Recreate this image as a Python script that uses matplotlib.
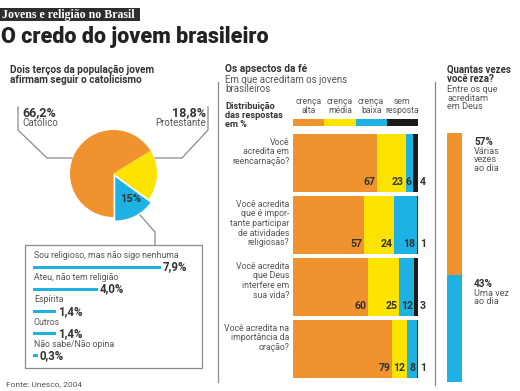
import matplotlib
matplotlib.use('Agg')
import numpy as np
import matplotlib.pyplot as plt
from matplotlib.patches import Rectangle
import matplotlib.transforms as mtransforms

plt.rcParams['font.family'] = ['Roboto', 'DejaVu Sans']

# ---------------- data ----------------
pie_labels = ['Outros', 'Protestante', 'Católico']
pie_values = [15.0, 18.8, 66.2]

other_labels = ['Sou religioso, mas não sigo nenhuma', 'Ateu, não tem religião',
                'Espírita', 'Outros', 'Não sabe/Não opina']
other_values = [7.9, 4.0, 1.4, 1.4, 0.3]

questions = ['Você\nacredita em\nreencarnação?',
             'Você acredita\nque é impor-\ntante participar\nde atividades\nreligiosas?',
             'Você acredita\nque Deus\ninterfere em\nsua vida?',
             'Você acredita na\nimportância da\noração?']
levels = ['crença\nalta', 'crença\nmédia', 'crença\nbaixa', 'sem\nresposta']
crenca_alta = [67, 57, 60, 79]
crenca_media = [23, 24, 25, 12]
crenca_baixa = [6, 18, 12, 8]
sem_resposta = [4, 1, 3, 1]

reza_labels = ['Várias\nvezes\nao dia', 'Uma vez\nao dia']
reza_values = [57, 43]

# ---------------- style ----------------
ORANGE = '#F0922E'
YELLOW = '#FDE400'
BLUE = '#1DB1E4'
BLACK = '#1A1A1A'
DARK = '#333333'
GRAY = '#555555'
LINE = '#8A8A8A'

W, H = 520, 391
fig = plt.figure(figsize=(5.2, 3.91), dpi=100)


def rect(x0, y0, x1, y1):
    return [x0 / W, 1 - y1 / H, (x1 - x0) / W, (y1 - y0) / H]


bg = fig.add_axes([0, 0, 1, 1])
bg.set_xlim(0, W)
bg.set_ylim(H, 0)
bg.axis('off')

# header
bg.add_patch(Rectangle((0, 8), 140, 13, color='#2E2E2E', lw=0))
bg.text(2.5, 14.8, 'Jovens e religião no Brasil', color='white', fontsize=8.6,
        family=['Liberation Serif', 'DejaVu Serif'], fontweight='bold', va='center', ha='left')
bg.text(1, 37, 'O credo do jovem brasileiro', color='#222222', fontsize=15.5,
        fontweight='black', va='center', ha='left')

# dividers
bg.plot([218, 218], [82, 382], color=LINE, lw=0.9)
bg.plot([435, 435], [82, 385], color=LINE, lw=0.9)

# ---------------- left panel ----------------
bg.text(10, 65, 'Dois terços da população jovem\nafirmam seguir o catolicismo',
        fontsize=7.2, fontweight='bold', color=DARK, va='top', ha='left', linespacing=1.0)

cx, cy, r = 113.5, 173.5, 43.5
axp = fig.add_axes(rect(cx - 55, cy - 55, cx + 55, cy + 55))
wedges, _ = axp.pie(pie_values, colors=[BLUE, YELLOW, ORANGE], startangle=-90,
                    counterclock=True, explode=[0.09, 0, 0],
                    wedgeprops=dict(linewidth=0))
lim = 55 / r
axp.set_xlim(-lim, lim)
axp.set_ylim(-lim, lim)
axp.axis('off')
w0 = wedges[0]
mid = np.deg2rad((w0.theta1 + w0.theta2) / 2 + 8)
c0 = w0.center
axp.text(c0[0] + 0.62 * np.cos(mid), c0[1] + 0.62 * np.sin(mid),
         f'{pie_values[0]:.0f}%', ha='center', va='center', fontsize=8,
         fontweight='bold', color=DARK)

# pie callouts
bg.plot([18, 18, 47, 72], [107, 130, 158, 158], color=LINE, lw=0.9)
bg.plot([208, 208, 182, 155], [107, 130, 158, 158], color=LINE, lw=0.9)
bg.text(22, 112.5, f'{pie_values[2]:.1f}%'.replace('.', ','), fontsize=9, fontweight='bold',
        color=DARK, va='center', ha='left')
bg.text(22, 123.5, pie_labels[2], fontsize=7, color=GRAY, va='center', ha='left')
bg.text(206, 112.5, f'{pie_values[1]:.1f}%'.replace('.', ','), fontsize=9, fontweight='bold',
        color=DARK, va='center', ha='right')
bg.text(206, 123.5, pie_labels[1], fontsize=7, color=GRAY, va='center', ha='right')

bg.plot([140, 155, 155], [215, 232, 245], color=LINE, lw=0.9)
bg.add_patch(Rectangle((25, 245), 177, 123, fill=False, edgecolor=LINE, lw=0.9))

axo = fig.add_axes(rect(33, 256, 195, 367))
axo.barh(range(len(other_values)), other_values, height=0.14, color=BLUE)
axo.set_xlim(0, 10)
axo.set_ylim(len(other_values) - 0.5, -0.5)
axo.axis('off')
for i, (lab, v) in enumerate(zip(other_labels, other_values)):
    axo.text(0.05, i - 0.52, lab, fontsize=6.3, color=GRAY, va='center', ha='left')
    axo.text(v + 0.12, i - 0.01, f'{v:.1f}%'.replace('.', ','), fontsize=8.3,
             fontweight='bold', color=DARK, va='center', ha='left')

bg.text(6, 384, 'Fonte: Unesco, 2004', fontsize=6, color=GRAY, va='center', ha='left')

# ---------------- middle panel ----------------
bg.text(225, 64.5, 'Os apsectos da fé', fontsize=7.3, fontweight='bold', color=DARK,
        va='top', ha='left')
bg.text(225, 75, 'Em que acreditam os jovens\nbrasileiros', fontsize=7, color=GRAY,
        va='top', ha='left', linespacing=0.9)
bg.text(225, 101.5, 'Distribuição\ndas respostas\nem %', fontsize=6.6, fontweight='bold',
        color=DARK, va='top', ha='left', linespacing=1.0)

seg_colors = [ORANGE, YELLOW, BLUE, BLACK]

axl = fig.add_axes(rect(293, 119, 418, 125.5))
for k, lev in enumerate(levels):
    axl.barh(0, 1, left=k, height=1, color=seg_colors[k])
    axl.text(k + 0.5, 1.15, lev, fontsize=6.2, color=GRAY, ha='center', va='bottom',
             linespacing=0.9)
axl.set_xlim(0, 4)
axl.set_ylim(-0.5, 0.5)
axl.axis('off')

axb = fig.add_axes(rect(293, 132, 418, 380))
series = [crenca_alta, crenca_media, crenca_baixa, sem_resposta]
n = len(questions)
ypos = np.arange(n)
hgt = 0.92
left = np.zeros(n)
for k, vals in enumerate(series):
    vals = np.array(vals, dtype=float)
    axb.barh(ypos, vals, left=left, height=hgt, color=seg_colors[k], lw=0)
    for i in range(n):
        if k < 3:
            axb.text(left[i] + vals[i] - 1.2, ypos[i] + hgt / 2 - 0.065, f'{int(vals[i])}',
                     fontsize=7.6, fontweight='bold', color=DARK, ha='right', va='bottom')
        else:
            axb.text(101.5, ypos[i] + hgt / 2 - 0.065, f'{int(vals[i])}',
                     fontsize=7.6, fontweight='bold', color=DARK, ha='left', va='bottom')
    left = left + vals
axb.set_xlim(0, 100)
axb.set_ylim(n - 0.5, -0.5)
axb.axis('off')
trans = mtransforms.blended_transform_factory(axb.transAxes, axb.transData)
for i, q in enumerate(questions):
    axb.text(-0.03, ypos[i] - hgt / 2 + 0.05, q, transform=trans, fontsize=6.3,
             color=GRAY, ha='right', va='top', linespacing=1.1)

# ---------------- right panel ----------------
bg.text(447, 64.5, 'Quantas vezes\nvocê reza?', fontsize=6.9, fontweight='bold', color=DARK,
        va='top', ha='left', linespacing=0.95)
bg.text(447, 85.5, 'Entre os que\nacreditam\nem Deus', fontsize=6.6, color=GRAY,
        va='top', ha='left', linespacing=0.9)

axr = fig.add_axes(rect(447, 133, 462, 382))
bottom = 0
rcols = [ORANGE, BLUE]
transr = mtransforms.blended_transform_factory(axr.transAxes, axr.transData)
for k, v in enumerate(reza_values):
    axr.bar(0, v, bottom=bottom, width=1, color=rcols[k], lw=0)
    axr.text(1.8, bottom + 1.5, f'{v}%', transform=transr, fontsize=7.2, fontweight='bold',
             color=DARK, ha='left', va='top')
    axr.text(1.8, bottom + 5.6, reza_labels[k], transform=transr, fontsize=6.6,
             color=GRAY, ha='left', va='top', linespacing=0.9)
    bottom += v
axr.set_xlim(-0.5, 0.5)
axr.set_ylim(100, 0)
axr.axis('off')

fig.savefig('out.png', dpi=100)
